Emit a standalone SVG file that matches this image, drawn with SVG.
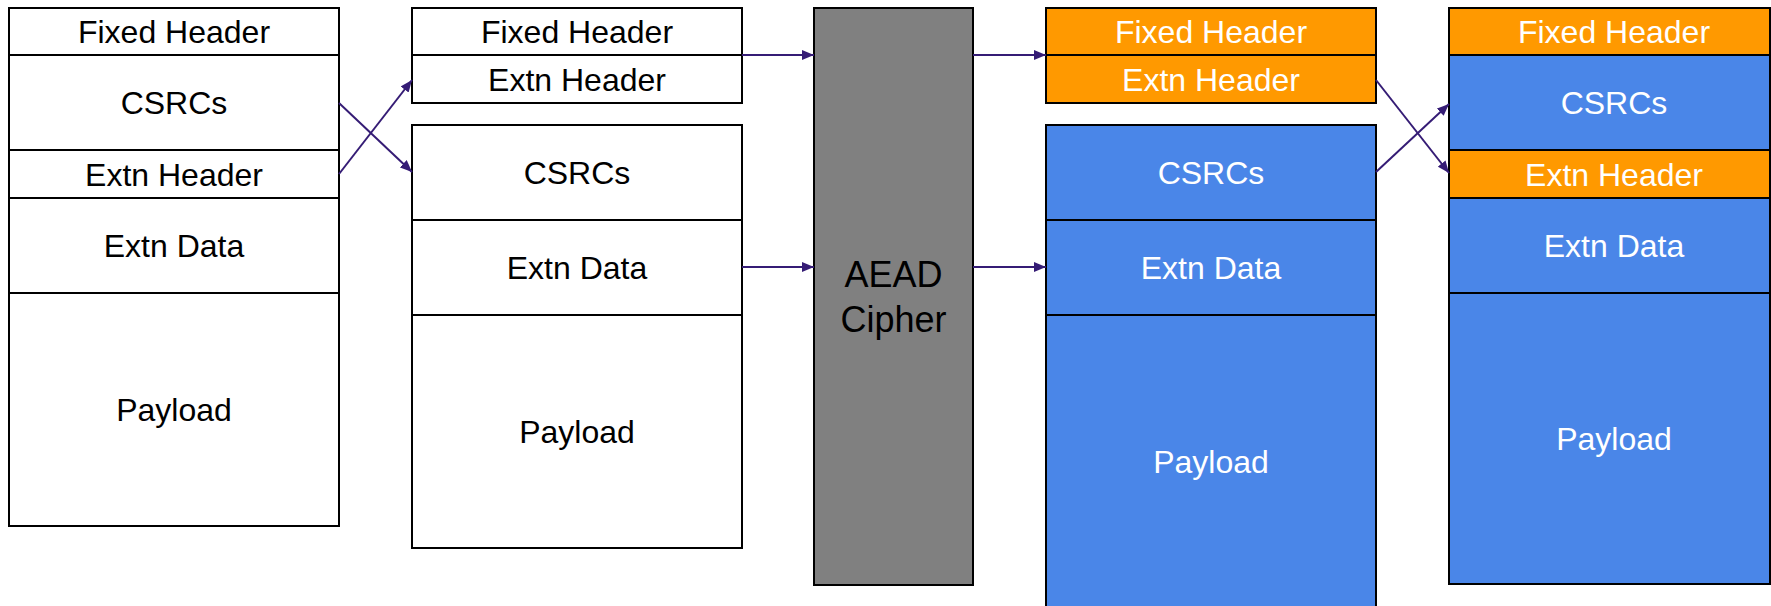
<svg xmlns="http://www.w3.org/2000/svg" width="1771" height="606" viewBox="0 0 1771 606">
<style>
  .w, .o, .b, .g { stroke: #000; stroke-width: 2; }
  .w { fill: #fff; }
  .o { fill: #ff9900; }
  .b { fill: #4a86e8; }
  .g { fill: #808080; }
  text { font-family: "Liberation Sans", Arial, sans-serif; font-size: 32px; text-anchor: middle; }
  .tw { fill: #fff; }
  .tb { fill: #000; }
  .conn line { stroke: #351c75; stroke-width: 2; fill: none; marker-end: url(#ah); }
</style>
<defs>
  <marker id="ah" markerUnits="userSpaceOnUse" markerWidth="12" markerHeight="10" refX="12" refY="5" orient="auto">
    <path d="M0,0 L12,5 L0,10 z" fill="#351c75"/>
  </marker>
</defs>
<rect x="0" y="0" width="1771" height="606" fill="#fff"/>

<!-- Column 1 -->
<g id="c1-fixed"><rect class="w" x="9" y="8" width="330" height="47"/><text class="tb" x="174" y="43">Fixed Header</text></g>
<g id="c1-csrcs"><rect class="w" x="9" y="55" width="330" height="95"/><text class="tb" x="174" y="114">CSRCs</text></g>
<g id="c1-extnhdr"><rect class="w" x="9" y="150" width="330" height="48"/><text class="tb" x="174" y="185.5">Extn Header</text></g>
<g id="c1-extndata"><rect class="w" x="9" y="198" width="330" height="95"/><text class="tb" x="174" y="257">Extn Data</text></g>
<g id="c1-payload"><rect class="w" x="9" y="293" width="330" height="233"/><text class="tb" x="174" y="421">Payload</text></g>

<!-- Column 2 -->
<g id="c2-fixed"><rect class="w" x="412" y="8" width="330" height="47"/><text class="tb" x="577" y="43">Fixed Header</text></g>
<g id="c2-extnhdr"><rect class="w" x="412" y="55" width="330" height="48"/><text class="tb" x="577" y="90.5">Extn Header</text></g>
<g id="c2-csrcs"><rect class="w" x="412" y="125" width="330" height="95"/><text class="tb" x="577" y="184">CSRCs</text></g>
<g id="c2-extndata"><rect class="w" x="412" y="220" width="330" height="95"/><text class="tb" x="577" y="279">Extn Data</text></g>
<g id="c2-payload"><rect class="w" x="412" y="315" width="330" height="233"/><text class="tb" x="577" y="443">Payload</text></g>

<!-- AEAD Cipher -->
<g id="aead"><rect class="g" x="814" y="8" width="159" height="577"/><text class="tb" x="893.5" y="287" style="font-size:36px">AEAD</text><text class="tb" x="893.5" y="332" style="font-size:36px">Cipher</text></g>

<!-- Column 4 -->
<g id="c4-fixed"><rect class="o" x="1046" y="8" width="330" height="47"/><text class="tw" x="1211" y="43">Fixed Header</text></g>
<g id="c4-extnhdr"><rect class="o" x="1046" y="55" width="330" height="48"/><text class="tw" x="1211" y="90.5">Extn Header</text></g>
<g id="c4-csrcs"><rect class="b" x="1046" y="125" width="330" height="95"/><text class="tw" x="1211" y="184">CSRCs</text></g>
<g id="c4-extndata"><rect class="b" x="1046" y="220" width="330" height="95"/><text class="tw" x="1211" y="279">Extn Data</text></g>
<g id="c4-payload"><rect class="b" x="1046" y="315" width="330" height="295"/><text class="tw" x="1211" y="473">Payload</text></g>

<!-- Column 5 -->
<g id="c5-fixed"><rect class="o" x="1449" y="8" width="321" height="47"/><text class="tw" x="1614" y="43">Fixed Header</text></g>
<g id="c5-csrcs"><rect class="b" x="1449" y="55" width="321" height="95"/><text class="tw" x="1614" y="114">CSRCs</text></g>
<g id="c5-extnhdr"><rect class="o" x="1449" y="150" width="321" height="48"/><text class="tw" x="1614" y="185.5">Extn Header</text></g>
<g id="c5-extndata"><rect class="b" x="1449" y="198" width="321" height="95"/><text class="tw" x="1614" y="257">Extn Data</text></g>
<g id="c5-payload"><rect class="b" x="1449" y="293" width="321" height="291"/><text class="tw" x="1614" y="450">Payload</text></g>

<!-- Connectors -->
<g id="connectors" class="conn">
  <line x1="339" y1="103" x2="412" y2="172"/>
  <line x1="339" y1="174" x2="412" y2="80"/>
  <line x1="742" y1="55" x2="814" y2="55"/>
  <line x1="742" y1="267" x2="814" y2="267"/>
  <line x1="973" y1="55" x2="1046" y2="55"/>
  <line x1="973" y1="267" x2="1046" y2="267"/>
  <line x1="1376" y1="80" x2="1449" y2="173"/>
  <line x1="1376" y1="172" x2="1449" y2="104"/>
</g>
</svg>
